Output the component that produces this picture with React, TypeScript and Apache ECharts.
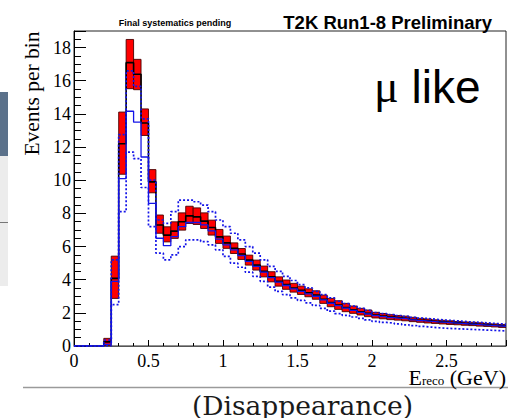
import React, { useEffect, useRef } from "react";
import * as echarts from "echarts";

// ---------- data (per 0.05 GeV bin, from 0 to 2.9 GeV) ----------
const BIN_WIDTH = 0.05;
const X_MAX = 2.9;
const Y_MAX = 19;
const xTickLabels = ["0", "0.5", "1", "1.5", "2", "2.5"];
const yTickLabels = ["0", "2", "4", "6", "8", "10", "12", "14", "16", "18"];

// central prediction (black histogram)
const central = [0, 0, 0, 0, 0.25, 4.08, 12.2, 17.09, 16.39, 13.45, 9.9, 7.3, 6.69, 6.93, 7.49, 7.85, 7.79, 7.53, 7.15, 6.58, 6.22, 5.9, 5.55, 5.18, 4.88, 4.5, 4.17, 3.9, 3.7, 3.5, 3.36, 3.21, 3.07, 2.82, 2.62, 2.47, 2.32, 2.19, 2.07, 1.97, 1.86, 1.8, 1.74, 1.7, 1.66, 1.6, 1.55, 1.51, 1.47, 1.44, 1.41, 1.38, 1.35, 1.33, 1.3, 1.27, 1.24, 1.21];
// red error boxes: lower / upper edges
const errLow = [0, 0, 0, 0, 0.02, 2.87, 10.36, 15.52, 15.46, 12.7, 9.24, 6.8, 6.28, 6.49, 6.99, 7.39, 7.33, 7.09, 6.69, 6.19, 5.89, 5.58, 5.22, 4.88, 4.58, 4.17, 3.87, 3.61, 3.42, 3.25, 3.11, 2.97, 2.82, 2.57, 2.37, 2.21, 2.07, 1.97, 1.87, 1.77, 1.69, 1.64, 1.59, 1.56, 1.52, 1.47, 1.43, 1.39, 1.36, 1.33, 1.3, 1.28, 1.25, 1.23, 1.2, 1.18, 1.15, 1.12];
const errHigh = [0, 0, 0, 0, 0.46, 5.42, 14.11, 18.49, 17.29, 14.3, 10.64, 7.9, 7.19, 7.49, 8.03, 8.43, 8.33, 8.03, 7.59, 7.03, 6.63, 6.22, 5.88, 5.48, 5.18, 4.82, 4.48, 4.17, 3.98, 3.78, 3.61, 3.45, 3.33, 3.07, 2.87, 2.73, 2.57, 2.41, 2.27, 2.17, 2.03, 1.96, 1.89, 1.84, 1.8, 1.73, 1.67, 1.63, 1.58, 1.55, 1.52, 1.48, 1.45, 1.43, 1.4, 1.36, 1.33, 1.3];
// blue solid histogram and its dotted band
const blueNominal = [0, 0, 0, 0, 0.1, 3.9, 10.1, 14.16, 13.5, 11.4, 8.6, 6.5, 6.05, 6.6, 7.2, 7.45, 7.45, 7.3, 6.95, 6.45, 6.1, 5.8, 5.45, 5.1, 4.8, 4.45, 4.12, 3.85, 3.65, 3.45, 3.3, 3.15, 3.0, 2.78, 2.58, 2.43, 2.28, 2.15, 2.03, 1.93, 1.83, 1.77, 1.71, 1.67, 1.63, 1.58, 1.53, 1.49, 1.45, 1.42, 1.39, 1.36, 1.33, 1.31, 1.28, 1.25, 1.22, 1.19];
const blueUpper = [0, 0, 0, 0, 0.35, 5.2, 12.75, 16.6, 15.66, 13.7, 10.0, 7.6, 7.4, 8.1, 8.8, 8.8, 8.7, 8.5, 8.1, 7.6, 7.2, 6.8, 6.4, 6.0, 5.6, 5.2, 4.8, 4.5, 4.2, 3.95, 3.7, 3.5, 3.3, 3.1, 2.9, 2.7, 2.55, 2.4, 2.27, 2.15, 2.02, 1.95, 1.89, 1.84, 1.79, 1.73, 1.68, 1.64, 1.6, 1.56, 1.53, 1.5, 1.46, 1.44, 1.41, 1.38, 1.35, 1.32];
const blueLower = [0, 0, 0, 0, 0, 2.5, 8.1, 11.7, 11.3, 9.56, 7.2, 5.6, 5.2, 5.5, 6.0, 6.4, 6.4, 6.3, 6.1, 5.8, 5.4, 5.0, 4.75, 4.45, 4.2, 3.9, 3.55, 3.3, 3.1, 2.9, 2.75, 2.6, 2.45, 2.27, 2.1, 1.95, 1.85, 1.75, 1.67, 1.58, 1.48, 1.42, 1.38, 1.33, 1.28, 1.23, 1.18, 1.14, 1.1, 1.07, 1.05, 1.03, 1.01, 0.99, 0.97, 0.95, 0.93, 0.91];

const binLow = central.map((_, i) => Math.round(i * BIN_WIDTH * 100) / 100);

function stepData(values: number[]) {
  const pts = values.map((v, i) => [binLow[i], v]);
  const last = values.length - 1;
  pts.push([Math.round((binLow[last] + BIN_WIDTH) * 100) / 100, values[last]]);
  return pts;
}

const boxData = binLow.map((x0, i) => [x0, Math.round((x0 + BIN_WIDTH) * 100) / 100, errLow[i], errHigh[i]]);

const BLUE = "#1414e8";
const SERIF = "Liberation Serif";
const SANS = "Liberation Sans";

const tickRich = {
  t: { fontFamily: SERIF, fontSize: 18, lineHeight: 14, color: "#000" },
};

export default function App() {
  const ref = useRef<HTMLDivElement>(null);
  useEffect(() => {
    if (!ref.current) return;
    const chart = echarts.init(ref.current, null, { renderer: "svg" });
    const option: any = {
      animation: false,
      backgroundColor: "#ffffff",
      textStyle: { fontFamily: SERIF },
      grid: {
        left: 74,
        top: 31,
        width: 432,
        height: 315,
        show: true,
        borderColor: "#222",
        borderWidth: 1,
        backgroundColor: "#fff",
        containLabel: false,
        outerBoundsMode: "none",
      },
      xAxis: {
        type: "value",
        min: 0,
        max: X_MAX,
        interval: 0.5,
        axisLine: { show: true, onZero: false, lineStyle: { color: "#555", width: 1 } },
        axisTick: { show: true, inside: true, length: 6, lineStyle: { color: "#000", width: 1 } },
        minorTick: { show: true, splitNumber: 5, length: 3, lineStyle: { color: "#000", width: 1 } },
        splitLine: { show: false },
        minorSplitLine: { show: false },
        axisLabel: {
          margin: 8,
          rich: tickRich,
          formatter: (v: number) => {
            const s = String(Math.round(v * 100) / 100);
            return xTickLabels.includes(s) ? "{t|" + s + "}" : "";
          },
        },
      },
      yAxis: {
        type: "value",
        min: 0,
        max: Y_MAX,
        interval: 2,
        axisLine: { show: true, onZero: false, lineStyle: { color: "#000", width: 1 } },
        axisTick: { show: true, inside: true, length: 12, lineStyle: { color: "#000", width: 1 } },
        minorTick: { show: true, splitNumber: 4, length: 7, lineStyle: { color: "#000", width: 1 } },
        splitLine: { show: false },
        minorSplitLine: { show: false },
        axisLabel: {
          margin: 3,
          rich: tickRich,
          formatter: (v: number) => {
            const s = String(Math.round(v * 100) / 100);
            return yTickLabels.includes(s) ? "{t|" + s + "}" : "";
          },
        },
      },
      series: [
        {
          type: "custom",
          name: "error boxes",
          z: 1,
          clip: true,
          silent: true,
          encode: { x: [0, 1], y: [2, 3] },
          data: boxData,
          renderItem: (params: any, api: any) => {
            const lo = api.value(2);
            const hi = api.value(3);
            if (!(hi - lo > 0)) return null;
            const p1 = api.coord([api.value(0), hi]);
            const p2 = api.coord([api.value(1), lo]);
            return {
              type: "rect",
              shape: { x: p1[0], y: p1[1], width: p2[0] - p1[0], height: p2[1] - p1[1] },
              style: { fill: "#ff0000", stroke: "#4a0000", lineWidth: 0.9 },
            };
          },
        },
        {
          type: "line",
          name: "central",
          z: 2,
          step: "end",
          symbol: "none",
          silent: true,
          data: stepData(central),
          lineStyle: { color: "#000", width: 1.6 },
        },
        {
          type: "line",
          name: "blue nominal",
          z: 3,
          step: "end",
          symbol: "none",
          silent: true,
          data: stepData(blueNominal),
          lineStyle: { color: BLUE, width: 1.3 },
        },
        {
          type: "line",
          name: "blue upper",
          z: 4,
          step: "end",
          symbol: "none",
          silent: true,
          data: stepData(blueUpper),
          lineStyle: { color: BLUE, width: 1.7, type: [2, 2] },
        },
        {
          type: "line",
          name: "blue lower",
          z: 4,
          step: "end",
          symbol: "none",
          silent: true,
          data: stepData(blueLower),
          lineStyle: { color: BLUE, width: 1.7, type: [2, 2] },
        },
      ],
      graphic: [
        // slide fragments on the left
        { type: "rect", shape: { x: 0, y: 92, width: 8, height: 64 }, style: { fill: "#5b718a" } },
        { type: "rect", shape: { x: 0, y: 156, width: 8, height: 130 }, style: { fill: "#ececec" } },
        { type: "line", shape: { x1: 0, y1: 222.5, x2: 8, y2: 222.5 }, style: { stroke: "#777", lineWidth: 1 } },
        // bottom separator line
        { type: "line", shape: { x1: 23, y1: 387.5, x2: 508, y2: 387.5 }, style: { stroke: "#9a9a9a", lineWidth: 1.5 } },
        {
          type: "text",
          x: 302.5,
          y: 405.5,
          style: {
            text: "(Disappearance)",
            font: '26.5px "DejaVu Serif"',
            fill: "#1a1a1a",
            align: "center",
            verticalAlign: "middle",
            textAlign: "center",
            textVerticalAlign: "middle",
          },
        },
        {
          type: "text",
          x: 175,
          y: 22.7,
          style: {
            text: "Final systematics pending",
            font: "bold 9px " + SANS,
            fill: "#000",
            align: "center",
            verticalAlign: "middle",
            textAlign: "center",
            textVerticalAlign: "middle",
          },
        },
        {
          type: "text",
          x: 492,
          y: 22.3,
          style: {
            text: "T2K Run1-8 Preliminary",
            font: "bold 18.5px " + SANS,
            fill: "#000",
            align: "right",
            verticalAlign: "middle",
            textAlign: "right",
            textVerticalAlign: "middle",
          },
        },
        {
          type: "text",
          x: 374,
          y: 86.7,
          style: {
            text: "{m|μ}{l| like}",
            align: "left",
            verticalAlign: "middle",
            textAlign: "left",
            textVerticalAlign: "middle",
            rich: {
              m: { fontFamily: SERIF, fontSize: 46, fill: "#000", color: "#000" },
              l: { fontFamily: SANS, fontSize: 46, fill: "#000", color: "#000" },
            },
          },
        },
        {
          type: "text",
          x: 31.7,
          y: 93.5,
          rotation: Math.PI / 2,
          style: {
            text: "Events per bin",
            font: "21.5px " + SERIF,
            fill: "#000",
            align: "center",
            verticalAlign: "middle",
            textAlign: "center",
            textVerticalAlign: "middle",
          },
        },
        {
          type: "text",
          x: 506,
          y: 377.6,
          style: {
            text: "{e|E}{s|reco}{e| (GeV)}",
            align: "right",
            verticalAlign: "middle",
            textAlign: "right",
            textVerticalAlign: "middle",
            rich: {
              e: { fontFamily: SERIF, fontSize: 22, lineHeight: 18, fill: "#000", color: "#000" },
              s: { fontFamily: SERIF, fontSize: 13, lineHeight: 11, verticalAlign: "bottom", fill: "#000", color: "#000" },
            },
          },
        },
      ],
    };
    chart.setOption(option);
    return () => chart.dispose();
  }, []);
  return (
    <div
      ref={ref}
      style={{ position: "fixed", left: 0, top: 0, width: 508, height: 418, background: "#fff" }}
    />
  );
}
